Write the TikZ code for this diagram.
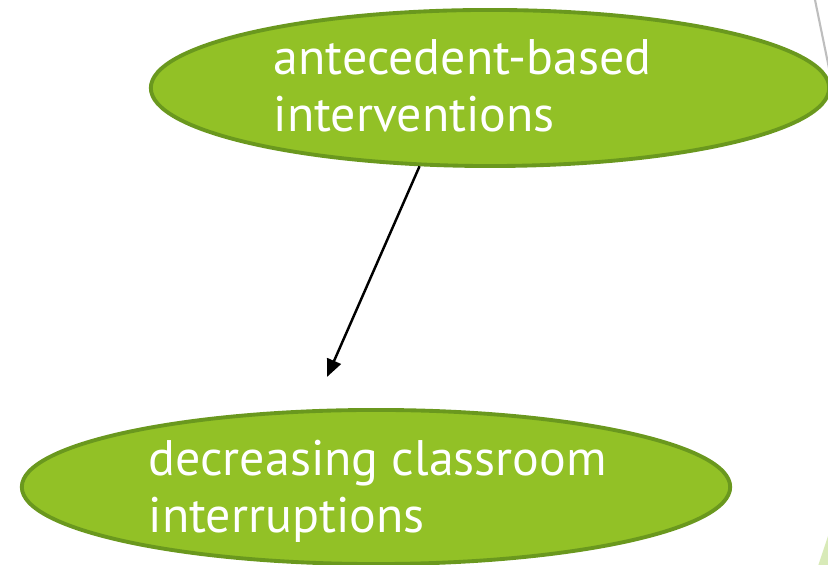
\documentclass[tikz,border=0pt]{standalone}
\usepackage{fontspec}
\setmainfont{PT Sans}
\usetikzlibrary{arrows.meta,shapes.geometric,positioning}
\definecolor{leaf}{RGB}{146,193,38}
\definecolor{leafdark}{RGB}{106,152,30}
\definecolor{leaflight}{RGB}{216,234,184}
\definecolor{rulegray}{RGB}{190,190,190}

\begin{document}
\begin{tikzpicture}[
  x=0.01cm, y=-0.01cm,
  font=\fontsize{14.2pt}{16.3pt}\selectfont, >={Triangle[length=5pt,width=4.2pt]},
  blob/.style={ellipse, inner sep=0pt, fill=leaf, draw=leafdark, line width=1.1pt},
  blobtext/.style={anchor=base west, inner sep=0pt, text=white, align=left}
]
\clip (0,0) rectangle (828,565);

\draw[rulegray, line width=0.6pt] (815,0) -- (831,78);
\fill[leaflight] (830,530) -- (818,566) -- (830,566) -- cycle;

\node[blob, minimum width=6.78cm, minimum height=1.56cm] (top) at (490,88) {};
\node[blob, minimum width=7.08cm, minimum height=1.54cm] (bottom) at (376,487) {};

% base of a two-line node is the last line
\node[blobtext] (toptext) at (273,132) {antecedent-based\\interventions};
\node[blobtext] (bottomtext) at (148,533) {decreasing classroom\\interruptions};

\coordinate (tip) at (327,377);
\draw[->, line width=0.7pt] (top.228) -- (tip);
\end{tikzpicture}
\end{document}
